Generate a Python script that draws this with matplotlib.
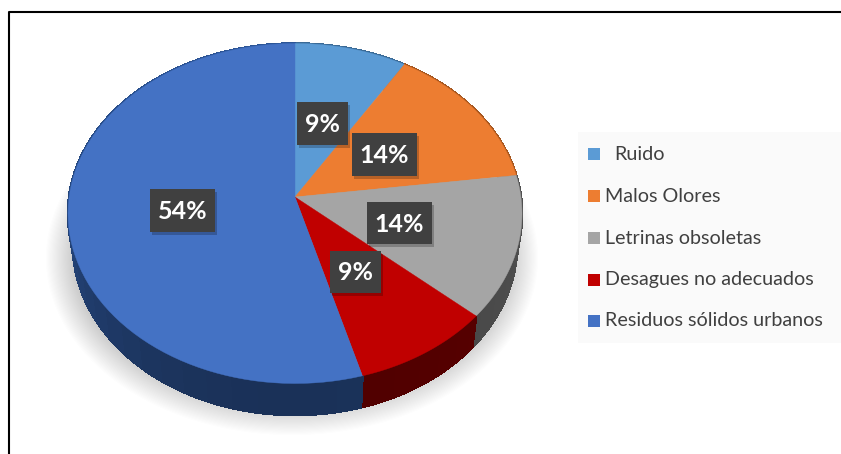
import matplotlib
matplotlib.use("Agg")
import matplotlib.pyplot as plt
import numpy as np
from matplotlib.colors import to_rgb
from matplotlib.patches import Ellipse, Rectangle

# datos
categorias = ["Ruido", "Malos Olores", "Letrinas obsoletas", "Desagues no adecuados", "Residuos sólidos urbanos"]
valores = [9, 14, 14, 9, 54]
# tamano de cada porcion tal como se ve en la imagen (%), la perspectiva las deforma
porciones = [8.0, 13.4, 13.9, 9.9, 54.8]

colores = ["#5B9BD5", "#ED7D31", "#A5A5A5", "#C00000", "#4472C4"]
lado_claro = ["#3a6a96", "#a5561f", "#5a5a5a", "#6e0000", "#2c5596"]
lado_oscuro = ["#3a6a96", "#a5561f", "#454545", "#500000", "#1a3158"]

plt.rcParams['font.family'] = ['Lato', 'DejaVu Sans']

fig = plt.figure(figsize=(8.41, 4.54), dpi=100)
ax = fig.add_axes([0, 0, 1, 1])
ax.set_xlim(0, 841)
ax.set_ylim(454, 0)
ax.axis("off")

# geometria del pastel en perspectiva
cx, cy, rx, ry = 295, 213.5, 227, 170
apice_y = 197
cy_lado, rx_lado = 245, 222


def arco(t0, t1, centro_y, radio_x, n=80):
    t = np.linspace(t0, t1, n)
    return cx + radio_x * np.sin(t), centro_y - ry * np.cos(t)


# sombra difusa
for k in range(40):
    ax.add_patch(Ellipse((292, 258), 2 * (246 - k * 1.1), 2 * (177 - k * 1.1),
                         facecolor="#666666", edgecolor="none", alpha=0.012, zorder=1))

limites = np.concatenate([[0], np.cumsum(porciones)]) / sum(porciones) * 2 * np.pi

# lados, en tiras para oscurecer hacia abajo
for i in range(len(porciones)):
    pasos = np.linspace(limites[i], limites[i + 1], 30)
    for t0, t1 in zip(pasos[:-1], pasos[1:]):
        x1, y1 = arco(t0, t1, cy, rx, 6)
        x2, y2 = arco(t0, t1, cy_lado, rx_lado, 6)
        m = (1 - np.cos((t0 + t1) / 2 - np.pi)) / 2
        c = (1 - m) * np.array(to_rgb(lado_oscuro[i])) + m * np.array(to_rgb(lado_claro[i]))
        ax.fill(np.r_[x1, x2[::-1]], np.r_[y1, y2[::-1]], color=c, lw=1.2, antialiased=False, zorder=2)

# cara superior
for i in range(len(porciones)):
    x1, y1 = arco(limites[i], limites[i + 1], cy, rx)
    ax.fill(np.r_[cx, x1], np.r_[apice_y, y1], color=colores[i], lw=0.3, zorder=3)

# etiquetas de datos
cajas = [(297, 102, 51, 43), (352, 133, 65, 43), (367, 202, 65, 42), (330, 251, 51, 42), (150, 189, 65, 43)]
for (x, y, w, h), v in zip(cajas, valores):
    ax.add_patch(Rectangle((x + 2, y + 3), w, h, facecolor="black", edgecolor="none", alpha=0.22, zorder=4))
    ax.add_patch(Rectangle((x, y), w, h, facecolor="#404040", edgecolor="none", zorder=5))
    ax.text(x + w / 2, y + h / 2 + 1, f"{v}%", color="white", fontsize=18, fontweight="bold",
            ha="center", va="center", zorder=6)

# leyenda
ax.add_patch(Rectangle((578, 132), 263, 211, facecolor="#fafafa", edgecolor="none", zorder=1))
filas_y = [154, 196, 238, 280, 321]
texto_x = [614, 605, 605, 605, 605]
for nombre, color, y, tx in zip(categorias, colores, filas_y, texto_x):
    ax.add_patch(Rectangle((588, y - 6), 12, 12, facecolor=color, edgecolor="none", zorder=2))
    ax.text(tx, y, nombre, color="#404040", fontsize=14.2, ha="left", va="center", zorder=3)

# marco, solo arriba y a la izquierda
ax.plot([9.5, 9.5, 841], [454, 12, 12], color="black", lw=1.5, zorder=7)

fig.savefig("out.png", dpi=100)
